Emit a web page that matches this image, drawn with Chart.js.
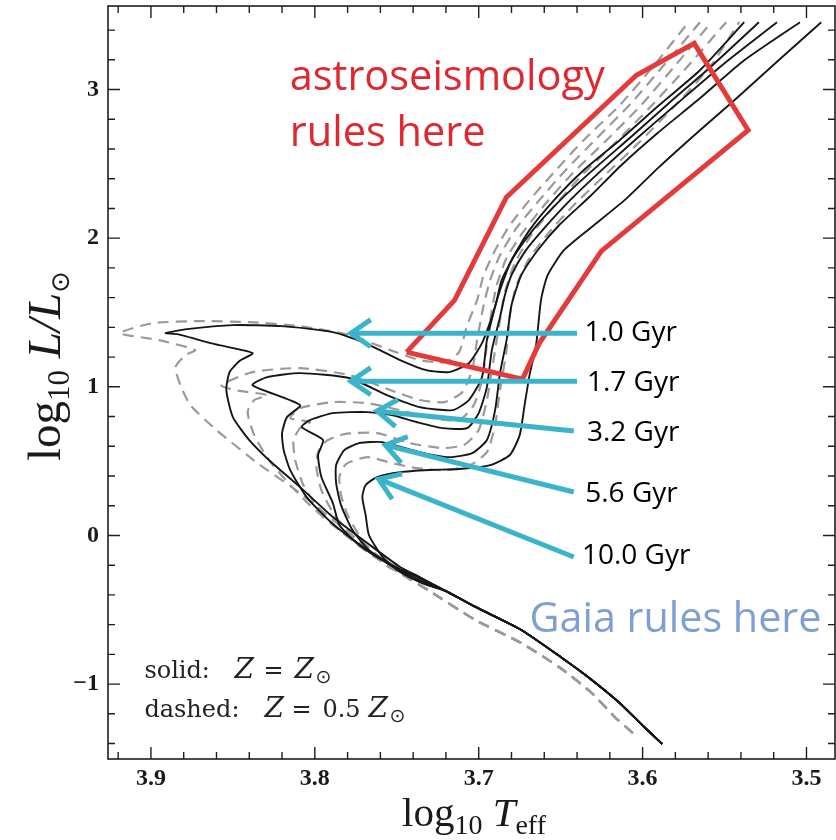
<!DOCTYPE html>
<html>
<head>
<meta charset="utf-8">
<script src="https://cdn.jsdelivr.net/npm/chart.js@4.4.1/dist/chart.umd.min.js"></script>
<style>
  body { margin: 0; background: #fff; }
  canvas { display: block; }
</style>
</head>
<body>
<canvas id="hr" width="836" height="840"></canvas>
<script>
// axes (log Teff is reversed, hot on the left)
var xTicks = [3.9, 3.8, 3.7, 3.6, 3.5];
var yTicks = [-1, 0, 1, 2, 3];
var X_MIN = 3.4826, X_MAX = 3.9262;
var Y_MIN = -1.504, Y_MAX = 3.562;

var ages = ['1.0 Gyr', '1.7 Gyr', '3.2 Gyr', '5.6 Gyr', '10.0 Gyr'];

// solid isochrones, Z = Zsun  [log Teff, log L]
var solidLowMS = [[3.588,-1.403],[3.599,-1.289],[3.614,-1.127],[3.631,-0.972],[3.650,-0.818],[3.674,-0.636],[3.702,-0.481],[3.720,-0.374]];
var S1_0 = [[3.736,-0.280],[3.748,-0.212],[3.768,-0.051],[3.789,0.124],[3.809,0.325],[3.826,0.487],[3.840,0.642],[3.850,0.796],[3.854,0.978],[3.852,1.099],[3.846,1.173],[3.838,1.227],[3.861,1.287],[3.884,1.354],[3.891,1.361],[3.878,1.388],[3.850,1.415],[3.820,1.408],[3.789,1.368],[3.768,1.287],[3.748,1.180],[3.732,1.112],[3.718,1.099],[3.706,1.159],[3.698,1.294],[3.692,1.469],[3.687,1.650],[3.680,1.852],[3.669,2.054],[3.654,2.256],[3.636,2.457],[3.614,2.659],[3.590,2.894],[3.565,3.130],[3.538,3.453]];
var S1_7 = [[3.736,-0.287],[3.748,-0.226],[3.768,-0.098],[3.789,0.077],[3.805,0.258],[3.815,0.440],[3.819,0.574],[3.820,0.689],[3.817,0.796],[3.809,0.877],[3.838,1.011],[3.829,1.065],[3.809,1.092],[3.779,1.059],[3.756,0.944],[3.736,0.863],[3.716,0.843],[3.706,0.911],[3.698,1.065],[3.695,1.314],[3.689,1.583],[3.686,1.718],[3.678,1.886],[3.666,2.067],[3.649,2.269],[3.629,2.471],[3.608,2.672],[3.584,2.908],[3.558,3.157],[3.529,3.453]];
var S3_2 = [[3.736,-0.300],[3.754,-0.199],[3.773,-0.065],[3.785,0.070],[3.789,0.218],[3.796,0.393],[3.798,0.541],[3.795,0.642],[3.808,0.729],[3.803,0.776],[3.789,0.823],[3.768,0.830],[3.753,0.810],[3.738,0.763],[3.722,0.722],[3.707,0.722],[3.700,0.823],[3.695,0.998],[3.692,1.247],[3.687,1.469],[3.684,1.617],[3.680,1.751],[3.672,1.906],[3.660,2.067],[3.643,2.269],[3.623,2.478],[3.602,2.686],[3.578,2.915],[3.550,3.177],[3.518,3.453]];
var S5_6 = [[3.736,-0.313],[3.751,-0.219],[3.767,-0.098],[3.777,0.036],[3.784,0.204],[3.787,0.352],[3.787,0.473],[3.782,0.574],[3.773,0.621],[3.759,0.628],[3.736,0.561],[3.718,0.527],[3.704,0.554],[3.695,0.642],[3.690,0.843],[3.687,1.092],[3.683,1.314],[3.680,1.549],[3.674,1.751],[3.664,1.919],[3.651,2.087],[3.632,2.282],[3.613,2.491],[3.591,2.706],[3.565,2.941],[3.538,3.197],[3.504,3.453]];
var S10 = [[3.733,-0.327],[3.748,-0.246],[3.759,-0.139],[3.767,0.003],[3.769,0.137],[3.771,0.258],[3.769,0.339],[3.762,0.393],[3.748,0.426],[3.730,0.440],[3.712,0.447],[3.693,0.473],[3.681,0.541],[3.675,0.675],[3.672,0.877],[3.669,1.079],[3.665,1.280],[3.662,1.583],[3.658,1.750],[3.648,1.919],[3.632,2.067],[3.611,2.256],[3.590,2.478],[3.565,2.726],[3.544,2.928],[3.517,3.197],[3.491,3.453]];

// dashed isochrones, Z = 0.5 Zsun
var dashLowMS = [[3.606,-1.329],[3.617,-1.221],[3.631,-1.060],[3.651,-0.885],[3.674,-0.724],[3.702,-0.569],[3.731,-0.367],[3.748,-0.253]];
var D1_0 = [[3.768,-0.078],[3.789,0.104],[3.809,0.285],[3.835,0.487],[3.860,0.709],[3.876,0.877],[3.882,1.011],[3.885,1.132],[3.879,1.213],[3.873,1.247],[3.895,1.314],[3.919,1.361],[3.899,1.428],[3.870,1.442],[3.840,1.435],[3.809,1.408],[3.779,1.348],[3.754,1.247],[3.736,1.180],[3.721,1.166],[3.712,1.233],[3.707,1.415],[3.701,1.583],[3.697,1.751],[3.690,1.919],[3.681,2.087],[3.669,2.256],[3.654,2.444],[3.636,2.659],[3.614,2.894],[3.593,3.163],[3.572,3.453]];
var D1_7 = [[3.768,-0.098],[3.789,0.070],[3.803,0.204],[3.815,0.339],[3.828,0.507],[3.837,0.675],[3.841,0.830],[3.837,0.911],[3.829,0.944],[3.849,0.978],[3.857,1.011],[3.838,1.099],[3.809,1.126],[3.779,1.079],[3.754,0.978],[3.736,0.911],[3.721,0.897],[3.710,0.964],[3.704,1.112],[3.701,1.314],[3.697,1.549],[3.693,1.718],[3.687,1.886],[3.677,2.067],[3.663,2.256],[3.647,2.457],[3.628,2.672],[3.607,2.908],[3.586,3.177],[3.565,3.453]];
var D3_2 = [[3.768,-0.111],[3.785,0.036],[3.798,0.185],[3.807,0.339],[3.812,0.507],[3.813,0.642],[3.809,0.722],[3.803,0.763],[3.815,0.789],[3.809,0.857],[3.789,0.897],[3.768,0.890],[3.748,0.843],[3.728,0.789],[3.712,0.776],[3.703,0.877],[3.698,1.045],[3.695,1.280],[3.692,1.516],[3.689,1.684],[3.683,1.866],[3.673,2.040],[3.659,2.235],[3.642,2.444],[3.622,2.659],[3.601,2.894],[3.580,3.163],[3.558,3.453]];
var D5_6 = [[3.760,-0.165],[3.776,-0.017],[3.788,0.137],[3.796,0.305],[3.799,0.453],[3.798,0.561],[3.793,0.635],[3.782,0.682],[3.762,0.689],[3.742,0.621],[3.722,0.588],[3.709,0.608],[3.700,0.709],[3.695,0.911],[3.691,1.180],[3.687,1.449],[3.684,1.637],[3.678,1.832],[3.668,2.020],[3.654,2.215],[3.637,2.424],[3.617,2.639],[3.596,2.874],[3.573,3.150],[3.549,3.453]];
var D10 = [[3.757,-0.199],[3.771,-0.031],[3.780,0.137],[3.784,0.272],[3.785,0.393],[3.781,0.480],[3.768,0.527],[3.753,0.487],[3.738,0.453],[3.721,0.440],[3.706,0.467],[3.695,0.561],[3.690,0.742],[3.687,0.978],[3.683,1.247],[3.681,1.482],[3.677,1.684],[3.669,1.866],[3.657,2.040],[3.642,2.222],[3.623,2.424],[3.602,2.646],[3.580,2.894],[3.559,3.150],[3.541,3.453]];

// annotations (data coordinates)
var redBox = [[3.744,1.233],[3.7147,1.583],[3.6831,2.276],[3.6038,3.096],[3.5685,3.311],[3.5356,2.726],[3.6252,1.913],[3.663,1.294],[3.6733,1.052],[3.744,1.233]];
var arrowTail = [[3.640,1.361],[3.640,1.038],[3.642,0.702],[3.642,0.292],[3.642,-0.145]];
var arrowTip = [[3.778,1.361],[3.778,1.038],[3.762,0.837],[3.757,0.608],[3.761,0.379]];
var ageLabelPos = [[3.6355,1.361],[3.634,1.025],[3.634,0.689],[3.635,0.278],[3.637,-0.137]];

var solidSets = [S1_0, S1_7, S3_2, S5_6, S10];
var dashSets = [D1_0, D1_7, D3_2, D5_6, D10];

function toXY(arr) {
  return arr.map(function(p) { return {x: p[0], y: p[1]}; });
}

var datasets = [];
datasets.push({
  label: 'asteroseismology region', data: toXY(redBox), showLine: true, pointRadius: 0,
  borderColor: '#e33b3b', borderWidth: 5, tension: 0, borderJoinStyle: 'miter'
});
solidSets.forEach(function(s, i) {
  datasets.push({
    label: 'solid ' + ages[i], data: toXY(solidLowMS.concat(s)), showLine: true, pointRadius: 0,
    borderColor: '#161616', borderWidth: 1.9, tension: 0.2
  });
});
dashSets.forEach(function(s, i) {
  datasets.push({
    label: 'dashed ' + ages[i], data: toXY(dashLowMS.concat(s)), showLine: true, pointRadius: 0,
    borderColor: '#9a9a9a', borderWidth: 2.2, borderDash: [11, 7], tension: 0.2
  });
});

var SERIF = "'Liberation Serif', 'DejaVu Serif', serif";
var SANS = "'Open Sans', 'Noto Sans', sans-serif";

function runsWidth(ctx, runs) {
  var w = 0;
  runs.forEach(function(r) { ctx.font = r.font; w += ctx.measureText(r.text).width; });
  return w;
}
function drawRuns(ctx, runs, x, y) {
  var cx = x;
  runs.forEach(function(r) {
    ctx.font = r.font;
    if (r.at !== undefined) cx = x + r.at;
    ctx.fillText(r.text, cx, y + (r.dy || 0));
    cx += ctx.measureText(r.text).width;
  });
}
function fitSize(ctx, text, family, width) {
  ctx.font = '40px ' + family;
  return 40 * width / ctx.measureText(text).width;
}

var overlay = {
  id: 'overlay',
  afterDatasetsDraw: function(chart) {
    var ctx = chart.ctx;
    var sx = chart.scales.x, sy = chart.scales.y;
    ctx.save();

    // cyan arrows
    ctx.strokeStyle = '#3ab3cb';
    ctx.lineWidth = 5;
    ctx.lineCap = 'butt';
    ctx.lineJoin = 'miter';
    for (var i = 0; i < arrowTail.length; i++) {
      var x0 = sx.getPixelForValue(arrowTail[i][0]), y0 = sy.getPixelForValue(arrowTail[i][1]);
      var x1 = sx.getPixelForValue(arrowTip[i][0]), y1 = sy.getPixelForValue(arrowTip[i][1]);
      var a = Math.atan2(y1 - y0, x1 - x0);
      ctx.beginPath();
      ctx.moveTo(x0, y0);
      ctx.lineTo(x1, y1);
      ctx.stroke();
      ctx.beginPath();
      ctx.moveTo(x1 - 24 * Math.cos(a - 0.6), y1 - 24 * Math.sin(a - 0.6));
      ctx.lineTo(x1, y1);
      ctx.lineTo(x1 - 24 * Math.cos(a + 0.6), y1 - 24 * Math.sin(a + 0.6));
      ctx.stroke();
    }

    // age labels
    ctx.fillStyle = '#000';
    ctx.textBaseline = 'middle';
    ctx.textAlign = 'left';
    ctx.font = '28px ' + SANS;
    ageLabelPos.forEach(function(p, i) {
      ctx.fillText(ages[i], sx.getPixelForValue(p[0]), sy.getPixelForValue(p[1]));
    });

    // red and blue remarks
    ctx.textBaseline = 'alphabetic';
    var fs = fitSize(ctx, 'astroseismology', SANS, 315);
    ctx.font = fs.toFixed(1) + 'px ' + SANS;
    ctx.fillStyle = '#e0262f';
    ctx.fillText('astroseismology', sx.getPixelForValue(3.8153), sy.getPixelForValue(2.996));
    ctx.fillText('rules here', sx.getPixelForValue(3.8153), sy.getPixelForValue(2.617));
    fs = fitSize(ctx, 'Gaia rules here', SANS, 292);
    ctx.font = fs.toFixed(1) + 'px ' + SANS;
    ctx.fillStyle = '#7f9fd3';
    ctx.fillText('Gaia rules here', sx.getPixelForValue(3.669), sy.getPixelForValue(-0.648));

    // metallicity key
    ctx.fillStyle = '#222';
    var kf = "24px 'DejaVu Serif', serif", ki = "italic 28px 'DejaVu Serif', serif", ks = '19px DejaVu Sans';
    drawRuns(ctx, [{text: 'solid:', font: kf}, {text: 'Z', font: ki, at: 90}, {text: '=', font: kf, at: 119},
      {text: 'Z', font: ki, at: 150}, {text: '\u2299', font: ks, dy: 5, at: 171}],
      sx.getPixelForValue(3.904), sy.getPixelForValue(-0.959));
    drawRuns(ctx, [{text: 'dashed:', font: kf}, {text: 'Z', font: ki, at: 120}, {text: '=', font: kf, at: 147},
      {text: '0.5', font: kf, at: 178}, {text: 'Z', font: ki, at: 224}, {text: '\u2299', font: ks, dy: 5, at: 245}],
      sx.getPixelForValue(3.904), sy.getPixelForValue(-1.221));
    ctx.restore();
  },
  afterDraw: function(chart) {
    var ctx = chart.ctx, ca = chart.chartArea;
    var sx = chart.scales.x, sy = chart.scales.y;
    ctx.save();
    ctx.strokeStyle = '#1e1e1e';
    ctx.lineWidth = 1.6;
    ctx.strokeRect(ca.left, ca.top, ca.right - ca.left, ca.bottom - ca.top);

    ctx.lineWidth = 1.4;
    ctx.beginPath();
    var v, p, len;
    for (v = 3.48; v <= 3.921; v += 0.02) {
      p = sx.getPixelForValue(v);
      len = Math.abs(v * 10 - Math.round(v * 10)) < 0.01 ? 12 : 7;
      ctx.moveTo(p, ca.bottom); ctx.lineTo(p, ca.bottom - len);
      ctx.moveTo(p, ca.top); ctx.lineTo(p, ca.top + len);
    }
    for (v = -1.4; v <= 3.41; v += 0.2) {
      p = sy.getPixelForValue(v);
      len = Math.abs(v - Math.round(v)) < 0.01 ? 12 : 7;
      ctx.moveTo(ca.left, p); ctx.lineTo(ca.left + len, p);
      ctx.moveTo(ca.right, p); ctx.lineTo(ca.right - len, p);
    }
    ctx.stroke();

    // axis titles
    ctx.fillStyle = '#1a1a1a';
    ctx.textBaseline = 'alphabetic';
    var main = '41px ' + SERIF, mainIt = 'italic 41px ' + SERIF, small = '28px ' + SERIF;
    var xRuns = [{text: 'log', font: main}, {text: '10', font: small, dy: 8}, {text: ' ', font: main},
      {text: 'T', font: mainIt}, {text: 'eff', font: small, dy: 8}];
    var w = runsWidth(ctx, xRuns);
    drawRuns(ctx, xRuns, 474 - w / 2, 826);

    main = '47px ' + SERIF; mainIt = 'italic 47px ' + SERIF; small = '31px ' + SERIF;
    var yRuns = [{text: 'log', font: main}, {text: '10', font: small, dy: 9}, {text: ' ', font: main},
      {text: 'L/L', font: mainIt}, {text: '\u2299', font: '26px DejaVu Sans', dy: 9}];
    w = runsWidth(ctx, yRuns);
    ctx.translate(60, 366);
    ctx.rotate(-Math.PI / 2);
    drawRuns(ctx, yRuns, -w / 2, 0);
    ctx.restore();
  }
};

var tickFont = {family: SERIF, size: 24, weight: 'bold'};

new Chart(document.getElementById('hr').getContext('2d'), {
  type: 'scatter',
  data: {datasets: datasets},
  options: {
    responsive: false,
    animation: false,
    layout: {padding: {left: 0, right: 1, top: 6, bottom: 0}},
    plugins: {legend: {display: false}, tooltip: {enabled: false}},
    scales: {
      x: {
        type: 'linear', reverse: true, min: X_MIN, max: X_MAX,
        grid: {display: false, drawTicks: false}, border: {display: false},
        afterBuildTicks: function(s) { s.ticks = xTicks.map(function(v) { return {value: v}; }); },
        afterFit: function(s) { s.height = 81; s.paddingLeft = 0; s.paddingRight = 0; },
        ticks: {font: tickFont, color: '#1a1a1a', padding: 5, maxRotation: 0,
          callback: function(v) { return v.toFixed(1); }}
      },
      y: {
        type: 'linear', min: Y_MIN, max: Y_MAX,
        grid: {display: false, drawTicks: false}, border: {display: false},
        afterBuildTicks: function(s) { s.ticks = yTicks.map(function(v) { return {value: v}; }); },
        afterFit: function(s) { s.width = 108; s.paddingTop = 0; s.paddingBottom = 0; },
        ticks: {font: tickFont, color: '#1a1a1a', padding: 9,
          callback: function(v) { return v < 0 ? '\u2212' + Math.abs(v) : String(v); }}
      }
    }
  },
  plugins: [overlay]
});
</script>
</body>
</html>
